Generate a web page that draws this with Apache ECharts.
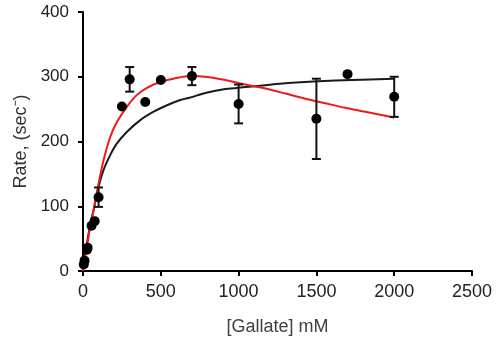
<!DOCTYPE html>
<html>
<head>
<meta charset="utf-8">
<script src="https://cdn.jsdelivr.net/npm/echarts@6/dist/echarts.min.js"></script>
<style>html,body{margin:0;padding:0;background:#fff}#c{width:500px;height:342px}</style>
</head>
<body>
<div id="c"></div>
<script>
// Measured data
var concX = [5, 10, 25, 30, 55, 75, 100, 250, 300, 400, 500, 700, 1000, 1500, 1700, 2000];
var rateY = [10, 16, 33, 36, 70, 77, 114, 254, 296, 261, 295, 301, 258, 235, 304, 269];
var rateErr = [0, 0, 0, 0, 0, 0, 15, 0, 19, 0, 0, 14, 30, 62, 0, 31];

// Fitted curves
var blackFitX = [0, 10, 25, 45, 68, 100, 132, 175, 218, 283, 368, 454, 540, 625, 690, 786, 915, 1043, 1172, 1300, 1514, 1729, 2000];
var blackFitY = [0, 20, 42, 70, 94, 130, 156, 179, 197, 215, 233, 246, 256, 264, 268, 275, 281, 284, 287, 290, 293, 295, 297];
var redFitX = [0, 10, 25, 45, 68, 100, 132, 175, 218, 283, 347, 411, 497, 582, 690, 786, 915, 1043, 1172, 1300, 1429, 1557, 1686, 1814, 2000];
var redFitY = [0, 16, 38, 66, 94, 135, 171, 207, 230, 254, 272, 283, 292, 297, 301, 300, 295, 288, 282, 274, 266, 259, 252, 246, 237];

var xTicks = [0, 500, 1000, 1500, 2000, 2500];
var yTicks = [0, 100, 200, 300, 400];

function zip(a, b) { return a.map(function (v, i) { return [v, b[i]]; }); }

var FONT = "'Liberation Sans', Arial, sans-serif";
var chart = echarts.init(document.getElementById('c'));
chart.setOption({
  animation: false,
  backgroundColor: '#fff',
  grid: { left: 83, right: 28, top: 12, bottom: 71, containLabel: false },
  xAxis: {
    type: 'value', min: xTicks[0], max: xTicks[xTicks.length - 1], interval: 500,
    name: '[Gallate] mM', nameLocation: 'middle', nameGap: 47,
    nameTextStyle: { fontFamily: FONT, fontSize: 18, color: '#404040' },
    axisLine: { show: true, lineStyle: { color: '#000', width: 2 } },
    axisTick: { show: true, inside: false, length: 5, lineStyle: { color: '#000', width: 2 } },
    axisLabel: { fontFamily: FONT, fontSize: 18, color: '#222', margin: 12,
      formatter: function (v) { return String(v); } },
    splitLine: { show: false }
  },
  yAxis: {
    type: 'value', min: yTicks[0], max: yTicks[yTicks.length - 1], interval: 100,
    name: 'Rate, (sec\u207B)', nameLocation: 'middle', nameGap: 47,
    nameTextStyle: { fontFamily: FONT, fontSize: 18, color: '#333' },
    axisLine: { show: true, lineStyle: { color: '#000', width: 2 } },
    axisTick: { show: true, inside: false, length: 5, lineStyle: { color: '#000', width: 2 } },
    axisLabel: { fontFamily: FONT, fontSize: 17, color: '#222', margin: 14,
      formatter: function (v) { return String(v); } },
    splitLine: { show: false }
  },
  series: [
    {
      type: 'line', data: zip(blackFitX, blackFitY), smooth: 0.3, showSymbol: false,
      lineStyle: { color: '#1a1a1a', width: 2 }, z: 2
    },
    {
      type: 'line', data: zip(redFitX, redFitY), smooth: 0.3, showSymbol: false,
      lineStyle: { color: '#f01818', width: 2 }, z: 3
    },
    {
      type: 'custom', z: 4,
      data: concX.map(function (x, i) { return [x, rateY[i], rateErr[i]]; }).filter(function (d) { return d[2] > 0; }),
      renderItem: function (params, api) {
        var x = api.value(0), y = api.value(1), e = api.value(2);
        var top = api.coord([x, y + e]);
        var bot = api.coord([x, y - e]);
        var hw = 4.5;
        var st = { stroke: '#111', lineWidth: 2 };
        return {
          type: 'group',
          children: [
            { type: 'line', shape: { x1: top[0], y1: top[1], x2: bot[0], y2: bot[1] }, style: st },
            { type: 'line', shape: { x1: top[0] - hw, y1: top[1], x2: top[0] + hw, y2: top[1] }, style: st },
            { type: 'line', shape: { x1: bot[0] - hw, y1: bot[1], x2: bot[0] + hw, y2: bot[1] }, style: st }
          ]
        };
      }
    },
    {
      type: 'scatter', data: zip(concX, rateY), symbol: 'circle', symbolSize: 10,
      itemStyle: { color: '#000', opacity: 1 }, z: 5
    }
  ]
});
</script>
</body>
</html>
